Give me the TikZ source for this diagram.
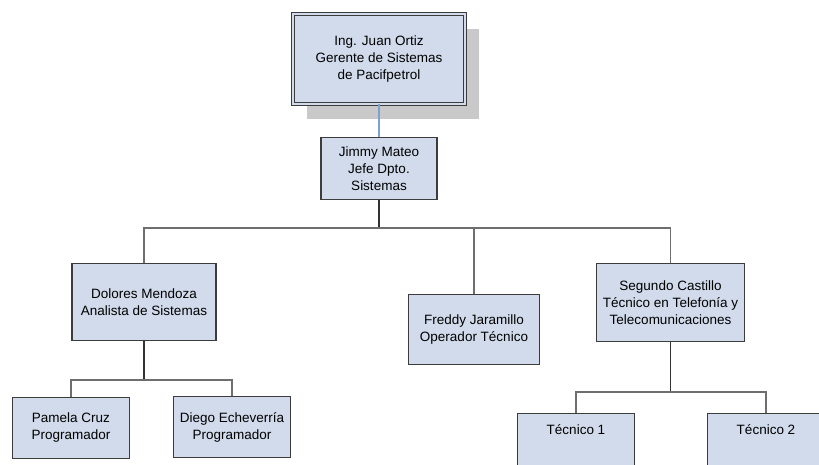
\documentclass[tikz,border=0pt]{standalone}
\usepackage{fontspec}
\setmainfont{Liberation Sans}
\usetikzlibrary{shadows}
\definecolor{boxfill}{HTML}{D1DBEB}
\definecolor{boxline}{HTML}{3C3C3C}
\definecolor{barline}{HTML}{6E6E6E}
\definecolor{topline}{HTML}{7F9FD0}
\begin{document}
\begin{tikzpicture}[x=1pt, y=-1pt, font=\fontsize{13.5}{17}\selectfont]
    \tikzstyle{block} = [draw=boxline, fill=boxfill, line width=1.2pt, rectangle, align=center, inner sep=2pt];
    \tikzstyle{topblock} = [block, line width=0.9pt, double=boxfill, double distance=2.4pt, drop shadow={shadow xshift=14pt, shadow yshift=-15pt, fill=black!21, opacity=1}];
    \tikzstyle{tecblock} = [block, minimum width=117pt, text height=19pt, text depth=40pt];
    \tikzstyle{trunk} = [draw=black!80, line width=1.5pt];
    \tikzstyle{branch} = [draw=barline, line width=1.3pt];
    \clip (0,0) rectangle (819,464);
    \node [topblock, minimum width=172pt, minimum height=90pt] (gerente) at (379,59) {Ing. Juan Ortiz\\Gerente de Sistemas\\de Pacifpetrol};
    \node [block, minimum width=116pt, minimum height=62pt] (jimmy) at (379,168.5) {Jimmy Mateo\\Jefe Dpto.\\Sistemas};
    \node [block, minimum width=144pt, minimum height=77pt] (dolores) at (144,302) {Dolores Mendoza\\Analista de Sistemas};
    \node [block, minimum width=131pt, minimum height=70pt] (freddy) at (474,329.5) {Freddy Jaramillo\\Operador T\'ecnico};
    \node [block, minimum width=148pt, minimum height=78pt] (segundo) at (670.5,302.5) {Segundo Castillo\\T\'ecnico en Telefon\'ia y\\Telecomunicaciones};
    \node [block, minimum width=117pt, minimum height=61pt] (pamela) at (71,428) {Pamela Cruz\\Programador};
    \node [block, minimum width=117pt, minimum height=61pt] (diego) at (232,427) {Diego Echeverr\'ia\\Programador};
    \node [tecblock, anchor=north] (tec1) at (576,413) {T\'ecnico 1};
    \node [tecblock, anchor=north] (tec2) at (766,413) {T\'ecnico 2};
    \coordinate (jbar) at ([yshift=-28pt]jimmy.south);
    \coordinate (dbar) at ([yshift=-39pt]dolores.south);
    \coordinate (sbar) at ([yshift=-50pt]segundo.south);
    \draw [topline, line width=1.3pt] (gerente.south) -- (jimmy.north);
    \draw [trunk] (jimmy.south) -- (jbar);
    \draw [branch] (dolores.north) |- (jbar) -| (segundo.north);
    \draw [branch] (freddy.north) -- (freddy.north |- jbar);
    \draw [trunk] (dolores.south) -- (dbar);
    \draw [branch] (pamela.north) |- (dbar) -| (diego.north);
    \draw [trunk] (segundo.south) -- (sbar);
    \draw [branch] (tec1.north) |- (sbar) -| (tec2.north);
\end{tikzpicture}
\end{document}
